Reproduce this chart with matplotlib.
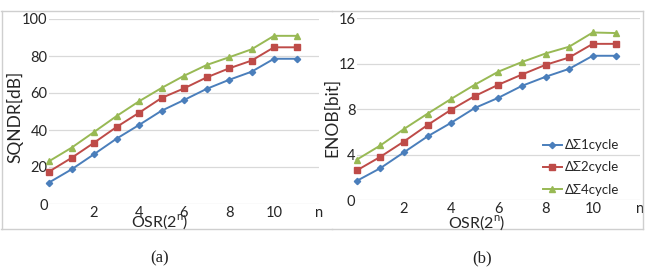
import matplotlib
matplotlib.use("Agg")
import matplotlib.pyplot as plt
from matplotlib.lines import Line2D

plt.rcParams['font.family'] = ['Lato', 'DejaVu Sans']
plt.rcParams['mathtext.fontset'] = 'custom'
plt.rcParams['mathtext.rm'] = 'Lato'

# ---- data ----
n = [0, 1, 2, 3, 4, 5, 6, 7, 8, 9, 10, 11]
xtick_pos = [2, 4, 6, 8, 10, 12]
xtick_labels = ['2', '4', '6', '8', '10', 'n']
series_names = ['ΔΣ1cycle', 'ΔΣ2cycle', 'ΔΣ4cycle']

sqndr_1 = [11.6, 18.7, 26.9, 35.3, 42.7, 50.4, 56.2, 62.2, 67.1, 71.5, 78.5, 78.5]
sqndr_2 = [17.5, 24.9, 33.1, 41.6, 49.3, 57.3, 62.5, 68.4, 73.3, 77.5, 84.7, 84.7]
sqndr_4 = [23.1, 30.4, 38.9, 47.5, 55.5, 62.7, 69.3, 75.1, 79.3, 83.6, 90.9, 90.9]

enob_1 = [1.68, 2.8, 4.2, 5.6, 6.8, 8.1, 9.0, 10.05, 10.85, 11.55, 12.7, 12.7]
enob_2 = [2.6, 3.8, 5.15, 6.6, 7.95, 9.15, 10.15, 11.05, 11.9, 12.55, 13.75, 13.75]
enob_4 = [3.55, 4.8, 6.25, 7.6, 8.9, 10.15, 11.3, 12.15, 12.9, 13.5, 14.75, 14.7]

colors = ['#4A7EBB', '#BE4B48', '#98B954']
markers = ['D', 's', '^']
msizes = [3.2, 5, 5]

W, H = 653, 274
fig = plt.figure(figsize=(W / 100, H / 100), dpi=100)

def px_axes(x0, y0_top, x1, y1_top):
    # pixel coords from top-left
    return fig.add_axes([x0 / W, 1 - y1_top / H, (x1 - x0) / W, (y1_top - y0_top) / H])

# outer boxes
box_col = '#cfcfcf'
for (xa, xb) in [(1, 332), (332, 643)]:
    fig.add_artist(Line2D([xa / W, xb / W], [1 - 11 / H, 1 - 11 / H], color=box_col, lw=1))
    fig.add_artist(Line2D([xa / W, xb / W], [1 - 229 / H, 1 - 229 / H], color=box_col, lw=1))
fig.add_artist(Line2D([1.5 / W, 1.5 / W], [1 - 11 / H, 1 - 229 / H], color=box_col, lw=1))
fig.add_artist(Line2D([643 / W, 643 / W], [1 - 11 / H, 1 - 229 / H], color=box_col, lw=1))

text_col = '#262626'
tick_fs = 10.5

def style(ax, ymax, ystep):
    ax.set_xlim(0, 12)
    ax.set_ylim(0, ymax)
    ax.set_yticks(range(0, ymax + 1, ystep))
    ax.set_xticks(xtick_pos)
    ax.set_xticklabels(xtick_labels)
    ax.grid(axis='y', color='#d9d9d9', lw=0.9)
    ax.set_axisbelow(True)
    for s in ax.spines.values():
        s.set_visible(False)
    ax.tick_params(length=0, labelsize=tick_fs, colors=text_col)
    ax.tick_params(axis='y', pad=1)
    ax.tick_params(axis='x', pad=1.5)
    ax.patch.set_alpha(0)

# left chart
ax1 = px_axes(49, 19, 319, 204)
for ys, c, m, ms in zip([sqndr_1, sqndr_2, sqndr_4], colors, markers, msizes):
    ax1.plot(n, ys, color=c, marker=m, ms=ms, lw=1.4, clip_on=False)
style(ax1, 100, 20)

# right chart
ax2 = px_axes(356.7, 18.3, 640, 200)
lines = []
for ys, c, m, ms, nm in zip([enob_1, enob_2, enob_4], colors, markers, msizes, series_names):
    ln, = ax2.plot(n, ys, color=c, marker=m, ms=ms, lw=1.4, label=nm, clip_on=False)
    lines.append(ln)
style(ax2, 16, 4)
ax2.legend(handles=lines, loc='lower right', bbox_to_anchor=(624 / W, 1 - 201 / H),
           bbox_transform=fig.transFigure, frameon=False, fontsize=9.5,
           handlelength=1.4, handletextpad=0.2, labelspacing=0.78, borderaxespad=0,
           labelcolor=text_col)

fig.text(15 / W, 1 - 117 / H, 'SQNDR[dB]', rotation=90, ha='center', va='center',
         fontsize=12.5, color=text_col)
fig.text(160 / W, 1 - 222 / H, 'OSR(2$^{\\mathregular{n}}$)', ha='center', va='center',
         fontsize=11.5, color=text_col)
fig.text(332 / W, 1 - 117 / H, 'ENOB[bit]', rotation=90, ha='center', va='center',
         fontsize=12.5, color=text_col)
fig.text(477 / W, 1 - 222.5 / H, 'OSR(2$^{\\mathregular{n}}$)', ha='center', va='center',
         fontsize=11.5, color=text_col)

fig.text(160 / W, 1 - 258 / H, '(a)', ha='center', va='center', fontsize=12,
         family=['Liberation Serif', 'DejaVu Serif'], color='#222222')
fig.text(482 / W, 1 - 258 / H, '(b)', ha='center', va='center', fontsize=12,
         family=['Liberation Serif', 'DejaVu Serif'], color='#222222')

fig.savefig('out.png', dpi=100)
